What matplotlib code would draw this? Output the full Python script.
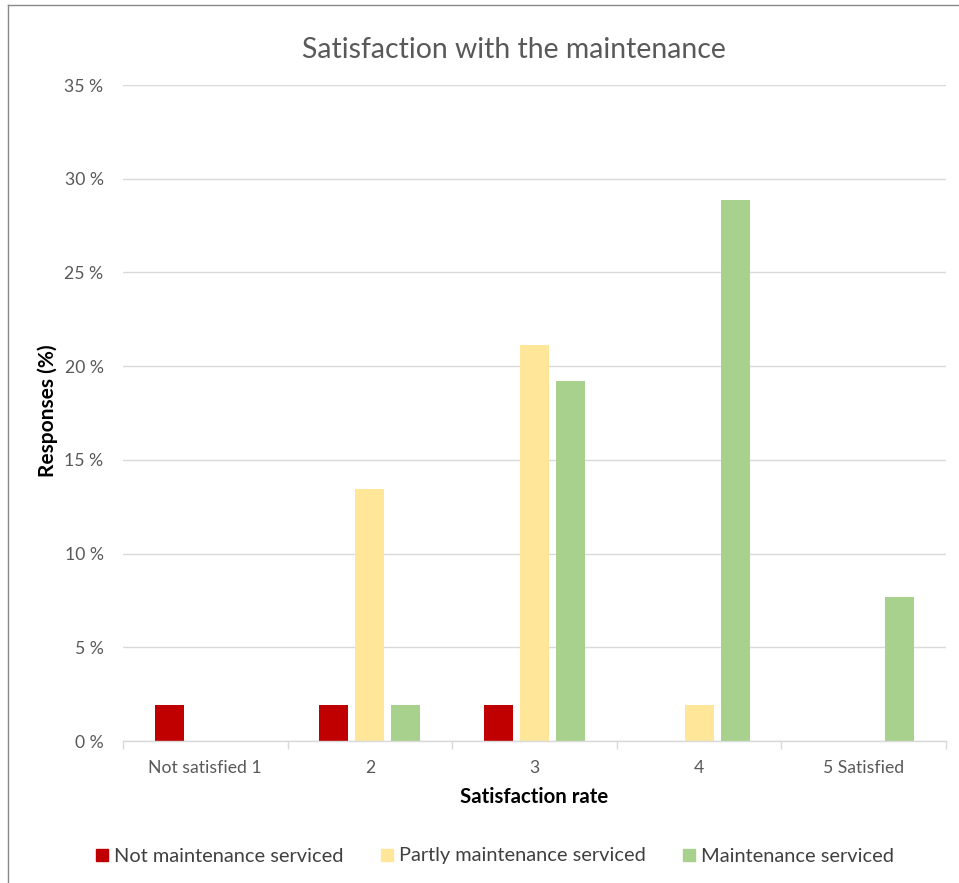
import matplotlib.pyplot as plt
import numpy as np
from matplotlib.lines import Line2D

plt.rcParams['font.family'] = ['Lato', 'DejaVu Sans']

categories = ["Not satisfied 1", "2", "3", "4", "5 Satisfied"]
not_serviced = [1.92, 1.92, 1.92, 0, 0]
partly_serviced = [0, 13.46, 21.15, 1.92, 0]
serviced = [0, 1.92, 19.23, 28.85, 7.69]
series_names = ["Not maintenance serviced", "Partly maintenance serviced", "Maintenance serviced"]
colors = ["#C00000", "#FFE699", "#A9D18E"]

fig = plt.figure(figsize=(9.59, 8.83), dpi=100)
ax = fig.add_axes([123/959, 142/883, 823/959, 656/883])

x = np.arange(len(categories))
w = 0.176
step = 0.219
for i, (vals, c) in enumerate(zip([not_serviced, partly_serviced, serviced], colors)):
    ax.bar(x + (i - 1) * step, vals, width=w, color=c, label=series_names[i], zorder=3)

ax.set_xlim(-0.5, len(categories) - 0.5)
ax.set_ylim(0, 35)
ax.set_yticks(np.arange(0, 36, 5))
ax.set_yticklabels([f"{v} %" for v in range(0, 36, 5)])
ax.grid(axis='y', color='#d9d9d9', linewidth=1, zorder=0)

# category labels on minor ticks, boundary marks on major ticks
ax.set_xticks(np.arange(-0.5, len(categories), 1))
ax.set_xticklabels([])
ax.set_xticks(x, minor=True)
ax.set_xticklabels(categories, minor=True)
ax.tick_params(axis='x', which='major', length=6, color='#d9d9d9', width=1)
ax.tick_params(axis='x', which='minor', length=0, pad=14, labelsize=12.7, labelcolor='#595959')
ax.tick_params(axis='y', length=0, pad=14, labelsize=12.7, labelcolor='#595959')

for s in ['top', 'right', 'left']:
    ax.spines[s].set_visible(False)
ax.spines['bottom'].set_color('#d9d9d9')
ax.spines['bottom'].set_linewidth(1)
ax.spines['bottom'].set_zorder(4)

fig.text(514/959, 1 - 50/883, "Satisfaction with the maintenance", ha='center', va='center',
         fontsize=20.4, color='#595959')
fig.text(48/959, 1 - 411/883, "Responses (%)", rotation=90, ha='center', va='center',
         fontsize=15, fontweight='bold', color='black')
fig.text(534/959, 1 - 797/883, "Satisfaction rate", ha='center', va='center',
         fontsize=14.7, fontweight='bold', color='black')

handles = [Line2D([], [], marker='s', linestyle='', markersize=9, color=c) for c in colors]
fig.legend(handles, series_names, loc='center', bbox_to_anchor=(494/959, 1 - 856/883), ncol=3,
           frameon=False, fontsize=14.4, labelcolor='#404040', handletextpad=0.2,
           columnspacing=1.75, handlelength=0.8)

# outer frame (left and top edges)
fig.add_artist(Line2D([8/959, 8/959], [0, 1 - 5/883], color='#888888', linewidth=1))
fig.add_artist(Line2D([8/959, 1], [1 - 5/883, 1 - 5/883], color='#888888', linewidth=1))

fig.savefig("out.png", dpi=100)
